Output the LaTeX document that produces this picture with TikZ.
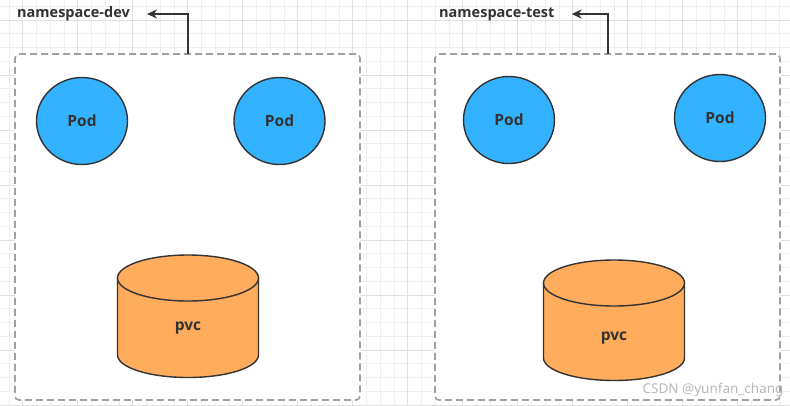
\documentclass[tikz,border=0pt]{standalone}
\usepackage{fontspec}
\setmainfont{Open Sans}
\newfontfamily\markfont{Noto Sans}
\usetikzlibrary{shapes.geometric,arrows.meta}
\definecolor{gridminor}{RGB}{239,239,239}
\definecolor{gridmajor}{RGB}{224,224,224}
\definecolor{podblue}{RGB}{51,178,255}
\definecolor{pvcorange}{RGB}{255,173,92}
\definecolor{inkdark}{RGB}{51,51,51}
\definecolor{boxgray}{RGB}{160,160,160}
\begin{document}
\begin{tikzpicture}[x=1pt,y=-1pt,
        nsbox/.style={draw=boxgray,fill=white,line width=1.6pt,dash pattern=on 7pt off 4pt,
            rounded corners=4pt,minimum width=345pt,minimum height=346pt,inner sep=0pt},
        nslabel/.style={anchor=west,inner sep=0pt,text=inkdark,font=\fontsize{14.5}{16}\selectfont\bfseries},
        nsarrow/.style={draw=inkdark,line width=1.8pt,-{Stealth[length=10pt,width=9pt]},shorten >=17pt},
        pod/.style={ellipse,draw=inkdark,fill=podblue,line width=1.4pt,minimum width=91pt,
            minimum height=87pt,text=inkdark,font=\fontsize{15.5}{17}\selectfont\bfseries},
        pvcline/.style={draw=inkdark,fill=pvcorange,line width=1.4pt},
        pvctext/.style={text=inkdark,font=\fontsize{15.5}{17}\selectfont\bfseries}]
    \useasboundingbox (0,0) rectangle (790,405);
    \fill[white] (0,0) rectangle (790,405);
    % background grid
    \foreach \k in {-29,...,27}
        \draw[gridminor,line width=0.8pt] (407.75+\k*13.75,0) -- ++(0,405);
    \foreach \k in {-13,...,16}
        \draw[gridminor,line width=0.8pt] (0,185+\k*13.75) -- ++(790,0);
    \foreach \k in {-7,...,6}
        \draw[gridmajor,line width=0.8pt] (407.75+\k*55,0) -- ++(0,405);
    \foreach \k in {-3,...,4}
        \draw[gridmajor,line width=0.8pt] (0,185+\k*55) -- ++(790,0);
    % namespaces
    \node[nsbox] (devbox) at (187.5,227) {};
    \node[nsbox] (testbox) at (607.5,227) {};
    \node[nslabel] (devlabel) at (17,14) {namespace-dev};
    \node[nslabel] (testlabel) at (439,14) {namespace-test};
    \coordinate (devtop) at (188,54);
    \coordinate (testtop) at (608,54);
    \draw[nsarrow] (devtop) |- (devlabel.east);
    \draw[nsarrow] (testtop) |- (testlabel.east);
    % pods
    \node[pod] (devpoda) at (82,121) {Pod};
    \node[pod] (devpodb) at (279.5,121) {Pod};
    \node[pod] (testpoda) at (509,120) {Pod};
    \node[pod] (testpodb) at (720,118) {Pod};
    % pvc disks: x, top, bottom, text y, name
    \foreach \cx/\ytop/\ybot/\ty/\name in {188/278/355/328/devpvc, 614/283/358/338/testpvc} {
        \path[pvcline] (\cx-70.5,\ytop) -- (\cx-70.5,\ybot)
            arc[start angle=180,end angle=0,x radius=70.5,y radius=22.5] -- (\cx+70.5,\ytop) -- cycle;
        \draw[pvcline] (\cx,\ytop) ellipse[x radius=70.5,y radius=23];
        \node[pvctext] (\name) at (\cx,\ty) {pvc};
    }
    \node[anchor=east,text=gray!55,font=\fontsize{13.5}{15}\markfont] (mark) at (787,390) {CSDN @yunfan\_chang};
\end{tikzpicture}
\end{document}
